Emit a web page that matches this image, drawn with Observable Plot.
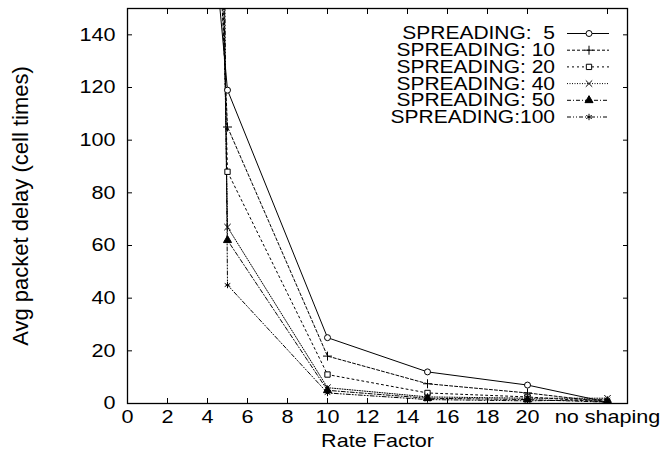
<!DOCTYPE html>
<html><head><meta charset="utf-8">
<script src="https://cdn.jsdelivr.net/npm/d3@7"></script>
<script src="https://cdn.jsdelivr.net/npm/@observablehq/plot@0.6"></script>
<style>
body{margin:0;background:#fff}
svg text{font-family:"Liberation Sans",Arial,Helvetica,sans-serif;white-space:pre}
</style>
</head><body><div id="chart"></div>
<script>
// x positions (rate factor); 24 is the "no shaping" slot
const rateFactors = [4.5, 5, 10, 15, 20, 24];
const spreading5   = [160, 119, 25, 12, 7, 0.5];
const spreading10  = [190, 105, 18, 7.5, 4, 0.5];
const spreading20  = [230, 88, 11, 4, 2.5, 0.5];
const spreading40  = [300, 67, 6, 2.5, 2, 2];
const spreading50  = [330, 62, 5, 2, 1.5, 0.5];
const spreading100 = [465, 45, 4, 1.5, 1, 1.5];
const seriesNames = ["SPREADING:  5", "SPREADING: 10", "SPREADING: 20", "SPREADING: 40", "SPREADING: 50", "SPREADING:100"];
const xTicks = [0, 2, 4, 6, 8, 10, 12, 14, 16, 18, 20, 24];
const xTickLabels = ["0", "2", "4", "6", "8", "10", "12", "14", "16", "18", "20", "no shaping"];
const yTicks = [0, 20, 40, 60, 80, 100, 120, 140];
const xLabel = "Rate Factor";
const yLabel = "Avg packet delay (cell times)";

const seriesValues = [spreading5, spreading10, spreading20, spreading40, spreading50, spreading100];
const styles = [
  {dash: null, symbol: "circle", d3sym: d3.symbolCircle, fill: "white"},
  {dash: "3,2", symbol: "plus", d3sym: d3.symbolPlus, fill: "none"},
  {dash: "2,3", symbol: "square", d3sym: d3.symbolSquare, fill: "white"},
  {dash: "1,1.5", symbol: "times", d3sym: d3.symbolTimes, fill: "none"},
  {dash: "4,2,1,2", symbol: "triangle", d3sym: d3.symbolTriangle, fill: "black"},
  {dash: "4,2,1,2,1,2", symbol: "asterisk", d3sym: d3.symbolAsterisk, fill: "none"}
];
const series = seriesNames.map((name, i) => ({
  name, style: styles[i],
  data: rateFactors.map((x, j) => ({x, y: seriesValues[i][j], name}))
}));

const W = 662, H = 461, mL = 127, mR = 35, mT = 8, mB = 58;
const marks = [];
for (const s of series) {
  marks.push(Plot.line(s.data, {x: "x", y: "y", stroke: "black", strokeWidth: 1, strokeDasharray: s.style.dash, clip: true}));
}
for (const s of series) {
  marks.push(Plot.dot(s.data, {x: "x", y: "y", symbol: () => s.style.symbol, r: 3, stroke: "black", strokeWidth: 1, fill: s.style.fill, clip: true}));
}
marks.push(
  Plot.axisX({anchor: "bottom", ticks: xTicks, tickSize: -5, tickPadding: 12, tickFormat: d => xTickLabels[xTicks.indexOf(d)], fontSize: 18, label: null, stroke: "black"}),
  Plot.axisX({anchor: "top", ticks: xTicks, tickSize: -5, tickFormat: () => "", label: null}),
  Plot.axisY({anchor: "left", ticks: yTicks, tickSize: -5, tickPadding: 17, fontSize: 18, label: null}),
  Plot.axisY({anchor: "right", ticks: yTicks, tickSize: -5, tickFormat: () => "", label: null}),
  Plot.frame({stroke: "black", strokeWidth: 1.3}),
  Plot.text([xLabel], {frameAnchor: "bottom", dy: 38, lineAnchor: "middle", textAnchor: "middle", fontSize: 18}),
  Plot.text([yLabel], {frameAnchor: "left", dx: -107, rotate: -90, textAnchor: "middle", lineAnchor: "middle", fontSize: 22})
);

const chart = Plot.plot({
  width: W, height: H,
  marginLeft: mL, marginRight: mR, marginTop: mT, marginBottom: mB,
  x: {domain: [0, 25]},
  y: {domain: [0, 150]},
  style: {fontFamily: '"Liberation Sans", Arial, sans-serif', fontSize: "18px", color: "black", background: "white"},
  marks
});
document.getElementById("chart").appendChild(chart);

// legend inside the frame, top-right
const svg = d3.select(chart);
const frameRight = W - mR;
const leg = svg.append("g").attr("class", "legend");
series.forEach((s, i) => {
  const cy = mT + 25.5 + i * 16.7;
  leg.append("text").attr("transform", `translate(${frameRight - 72},${cy})`)
    .attr("text-anchor", "end").attr("dy", "0.34em")
    .attr("font-size", 17.5).attr("fill", "black").text(s.name);
  leg.append("line").attr("x1", frameRight - 60).attr("x2", frameRight - 18)
    .attr("y1", cy).attr("y2", cy).attr("stroke", "black").attr("stroke-width", 1)
    .attr("stroke-dasharray", s.style.dash);
  leg.append("path").attr("transform", `translate(${frameRight - 38},${cy})`)
    .attr("d", d3.symbol(s.style.d3sym, Math.PI * 9)())
    .attr("stroke", "black").attr("fill", s.style.fill);
});

// horizontal stretch of horizontal texts (to match the scanned typeface proportions)
chart.querySelectorAll("text").forEach(t => {
  if (t.textContent === yLabel) return;
  const tr = t.getAttribute("transform") || "";
  if (/rotate/.test(tr)) return;
  if (tr) t.setAttribute("transform", tr + " scale(1.2,1)");
  else {
    const x = +(t.getAttribute("x") || 0);
    t.setAttribute("transform", `translate(${x},0) scale(1.2,1) translate(${-x},0)`);
  }
});
</script>
</body></html>
